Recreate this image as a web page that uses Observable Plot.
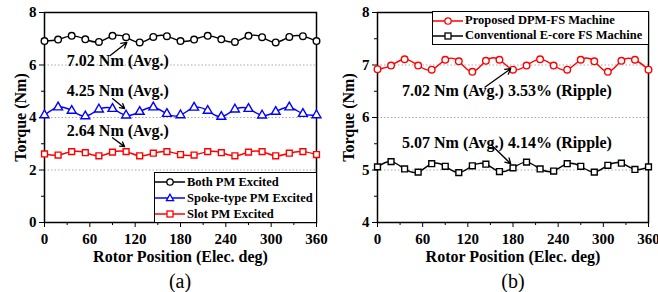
<!DOCTYPE html>
<html><head><meta charset="utf-8">
<script src="https://cdn.jsdelivr.net/npm/d3@7"></script>
<script src="https://cdn.jsdelivr.net/npm/@observablehq/plot@0.6"></script>
<style>
body{margin:0;background:#fff;font-family:"Liberation Serif",serif;}
#wrap{display:flex;width:658px;height:292px;overflow:hidden;}
.panel{position:relative;width:329px;height:292px;}
.panel svg{position:absolute;left:0;top:0;font-family:"Liberation Serif",serif;}
.cap{position:absolute;top:271px;width:60px;text-align:center;font-size:20px;line-height:20px;}
.legend{position:absolute;box-sizing:border-box;border:1.5px solid #000;background:#fff;font-weight:bold;font-size:12.5px;color:#000;}
.legend .row{display:flex;align-items:center;white-space:nowrap;}
.legend svg{position:static;margin-right:2px;flex:none;}
</style></head><body>
<div id="wrap"><div class="panel" id="pa"></div><div class="panel" id="pb"></div></div>
<script>
// ---- data ----
const angles = [0,18,36,54,72,90,108,126,144,162,180,198,216,234,252,270,288,306,324,342,360];
const bothPM  = [6.91,6.97,7.11,6.98,6.88,7.11,7.06,6.86,7.07,7.10,6.91,6.97,7.11,6.98,6.88,7.11,7.06,6.86,7.07,7.10,6.91];
const spokePM = [4.09,4.39,4.26,4.05,4.31,4.33,4.08,4.22,4.39,4.14,4.09,4.38,4.26,4.03,4.31,4.33,4.08,4.22,4.39,4.14,4.09];
const slotPM  = [2.61,2.57,2.70,2.66,2.54,2.68,2.70,2.54,2.64,2.70,2.59,2.57,2.70,2.66,2.54,2.68,2.70,2.54,2.64,2.70,2.59];
const proposed     = [6.92,6.99,7.11,6.99,6.91,7.10,7.07,6.87,7.08,7.10,6.91,6.99,7.11,6.99,6.91,7.10,7.07,6.87,7.08,7.10,6.91];
const conventional = [5.06,5.16,5.02,4.96,5.12,5.07,4.95,5.08,5.11,4.97,5.04,5.15,5.02,4.98,5.12,5.07,4.96,5.09,5.13,5.01,5.06];

const seriesA = ["Both PM Excited","Spoke-type PM Excited","Slot PM Excited"];
const seriesB = ["Proposed DPM-FS Machine","Conventional E-core FS Machine"];
const colorsA = ["#000000","#0000ff","#ff0000"];
const colorsB = ["#ff0000","#000000"];
const symbolsA = ["circle","triangle","square"];
const symbolsB = ["circle","square"];

const xMajor = [0,60,120,180,240,300,360];
const xMinor = [30,90,150,210,270,330];
const yMajorA = [0,2,4,6,8], yMinorA = [1,3,5,7], gridA = [2,4,6];
const yMajorB = [4,5,6,7,8], yMinorB = [4.5,5.5,6.5,7.5], gridB = [5,6,7];

const notesA = [
  {x:97, y:6.17, text:"7.02 Nm (Avg.)"},
  {x:97, y:5.03, text:"4.25 Nm (Avg.)"},
  {x:97, y:3.50, text:"2.64 Nm (Avg.)"}];
const arrowsA = [
  {x1:87, y1:6.36, x2:109, y2:6.86},
  {x1:90, y1:4.72, x2:106, y2:4.34},
  {x1:90, y1:3.23, x2:106, y2:2.89}];
const notesB = [
  {x:172, y:6.51, text:"7.02 Nm (Avg.) 3.53% (Ripple)"},
  {x:172, y:5.52, text:"5.07 Nm (Avg.) 4.14% (Ripple)"}];
const arrowsB = [
  {x1:143, y1:6.58, x2:177, y2:6.93},
  {x1:151, y1:5.48, x2:177, y2:5.12}];

const FONT = "Liberation Serif";

function rows(names, vals) {
  const out = [];
  names.forEach((n, i) => vals[i].forEach((v, j) => out.push({series:n, angle:angles[j], torque:v})));
  return out;
}

function panel(cfg) {
  const data = rows(cfg.names, cfg.values);
  const marks = [
    Plot.gridY({ticks: cfg.grid, stroke:"#aaa", strokeOpacity:1, strokeDasharray:"1.5,2"}),
    Plot.axisX({ticks: xMajor, tickSize:5, tickPadding:6, fontSize:15, fontFamily:FONT, fontWeight:"bold", tickFormat: d => d, label:null}),
    Plot.axisX({ticks: [], fontSize:16, fontFamily:FONT, fontWeight:"bold", label:"Rotor Position (Elec. deg)", labelAnchor:"center", labelOffset:39, labelArrow:false}),
    Plot.axisX({ticks: xMinor, tickSize:3, tickFormat: () => "", label:null}),
    Plot.axisY({ticks: cfg.yMajor, tickSize:5, tickPadding:3, fontSize:15, fontFamily:FONT, fontWeight:"bold", tickFormat: d => d, label:null}),
    Plot.axisY({ticks: [], fontSize:16, fontFamily:FONT, fontWeight:"bold", label:"Torque (Nm)", labelAnchor:"center", labelOffset: cfg.labelOffset, labelArrow:false}),
    Plot.axisY({ticks: cfg.yMinor, tickSize:3, tickFormat: () => "", label:null}),
    Plot.frame({stroke:"#000", strokeWidth:1.5}),
  ];
  cfg.names.forEach((n, i) => {
    const d = data.filter(r => r.series === n);
    marks.push(Plot.line(d, {x:"angle", y:"torque", stroke: cfg.colors[i], strokeWidth:1.4, curve:"natural"}));
    marks.push(Plot.dot(d, {x:"angle", y:"torque", stroke: cfg.colors[i], fill:"#fff", strokeWidth:1.4, r:3.3, symbol: cfg.symbols[i]}));
  });
  marks.push(Plot.text(cfg.notes, {x:"x", y:"y", text:"text", fontSize:16, fontFamily:FONT, fontWeight:"bold", fill:"#000"}));
  marks.push(Plot.arrow(cfg.arrows, {x1:"x1", y1:"y1", x2:"x2", y2:"y2", stroke:"#000", strokeWidth:1.3, headLength:7, bend:0}));
  return Plot.plot({
    width: 329, height: 270,
    marginLeft: cfg.ml, marginRight: cfg.mr, marginTop: 12, marginBottom: 48,
    x: {domain:[0,360]},
    y: {domain: cfg.ydomain},
    style: "font-family:'Liberation Serif',serif;font-weight:bold;font-size:15px;color:#000;background:transparent;overflow:visible;",
    marks
  });
}

function legend(names, colors, symbols, style, rowH) {
  const div = document.createElement("div");
  div.className = "legend";
  Object.assign(div.style, style);
  names.forEach((n, i) => {
    const r = document.createElement("div");
    r.className = "row";
    r.style.height = rowH + "px";
    const c = colors[i];
    let sym;
    if (symbols[i] === "circle") sym = `<circle cx="15" cy="6" r="3.2" fill="#fff" stroke="${c}" stroke-width="1.3"/>`;
    else if (symbols[i] === "triangle") sym = `<path d="M15,2.2L18.6,8.6L11.4,8.6Z" fill="#fff" stroke="${c}" stroke-width="1.3"/>`;
    else sym = `<rect x="12" y="3" width="6" height="6" fill="#fff" stroke="${c}" stroke-width="1.3"/>`;
    r.innerHTML = `<svg width="30" height="12"><line x1="0" x2="30" y1="6" y2="6" stroke="${c}" stroke-width="1.5"/>${sym}</svg><span>${n}</span>`;
    div.appendChild(r);
  });
  return div;
}

const pa = document.getElementById("pa"), pb = document.getElementById("pb");
pa.appendChild(panel({names:seriesA, values:[bothPM, spokePM, slotPM], colors:colorsA, symbols:symbolsA,
  yMajor:yMajorA, yMinor:yMinorA, grid:gridA, ydomain:[0,8], notes:notesA, arrows:arrowsA, ml:44, mr:13, labelOffset:30}));
pb.appendChild(panel({names:seriesB, values:[proposed, conventional], colors:colorsB, symbols:symbolsB,
  yMajor:yMajorB, yMinor:yMinorB, grid:gridB, ydomain:[4,8], notes:notesB, arrows:arrowsB, ml:48, mr:10, labelOffset:35}));

pa.appendChild(legend(seriesA, colorsA, symbolsA, {left:"154px", top:"172px", width:"163px", height:"51px", paddingTop:"1px"}, 16));
pb.appendChild(legend(seriesB, colorsB, symbolsB, {left:"103px", top:"11px", width:"217px", height:"34px", paddingTop:"1px"}, 15));

const ca = document.createElement("div"); ca.className = "cap"; ca.textContent = "(a)"; ca.style.left = (180 - 30) + "px"; pa.appendChild(ca);
const cb = document.createElement("div"); cb.className = "cap"; cb.textContent = "(b)"; cb.style.left = (184 - 30) + "px"; pb.appendChild(cb);
</script>
</body></html>
